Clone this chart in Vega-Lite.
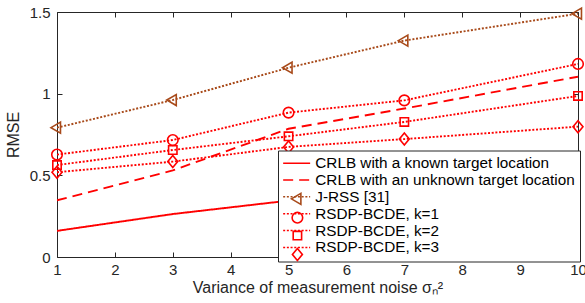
{
  "$schema": "https://vega.github.io/schema/vega-lite/v6.json",
  "width": 521,
  "height": 245,
  "autosize": {"type": "none"},
  "padding": {"left": 57, "top": 12, "right": 7, "bottom": 46},
  "background": "white",
  "config": {
    "font": "Liberation Sans",
    "view": {"stroke": "#262626", "strokeWidth": 1},
    "axis": {
      "domain": false,
      "grid": false,
      "tickColor": "#262626",
      "tickSize": -5,
      "labelFont": "Liberation Sans",
      "labelFontSize": 15,
      "labelColor": "#262626",
      "labelFlush": false,
      "labelOverlap": false,
      "titleFont": "Liberation Sans",
      "titleFontSize": 16,
      "titleFontWeight": "normal",
      "titleColor": "#262626"
    }
  },
  "data": {
    "values": [
      {"x": 1, "series": "CRLB with a known target location", "marker": "m1", "y": 0.16},
      {"x": 3, "series": "CRLB with a known target location", "marker": "m1", "y": 0.263},
      {"x": 5, "series": "CRLB with a known target location", "marker": "m1", "y": 0.345},
      {"x": 7, "series": "CRLB with a known target location", "marker": "m1", "y": 0.41},
      {"x": 10, "series": "CRLB with a known target location", "marker": "m1", "y": 0.49},
      {"x": 1, "series": "CRLB with an unknown target location", "marker": "m2", "y": 0.347},
      {"x": 3, "series": "CRLB with an unknown target location", "marker": "m2", "y": 0.53},
      {"x": 5, "series": "CRLB with an unknown target location", "marker": "m2", "y": 0.785},
      {"x": 7, "series": "CRLB with an unknown target location", "marker": "m2", "y": 0.909},
      {"x": 10, "series": "CRLB with an unknown target location", "marker": "m2", "y": 1.104},
      {"x": 1, "series": "J-RSS [31]", "marker": "m3", "y": 0.792},
      {"x": 3, "series": "J-RSS [31]", "marker": "m3", "y": 0.961},
      {"x": 5, "series": "J-RSS [31]", "marker": "m3", "y": 1.159},
      {"x": 7, "series": "J-RSS [31]", "marker": "m3", "y": 1.325},
      {"x": 10, "series": "J-RSS [31]", "marker": "m3", "y": 1.49},
      {"x": 1, "series": "RSDP-BCDE, k=1", "marker": "m4", "y": 0.627},
      {"x": 3, "series": "RSDP-BCDE, k=1", "marker": "m4", "y": 0.716},
      {"x": 5, "series": "RSDP-BCDE, k=1", "marker": "m4", "y": 0.884},
      {"x": 7, "series": "RSDP-BCDE, k=1", "marker": "m4", "y": 0.959},
      {"x": 10, "series": "RSDP-BCDE, k=1", "marker": "m4", "y": 1.182},
      {"x": 1, "series": "RSDP-BCDE, k=2", "marker": "m5", "y": 0.563},
      {"x": 3, "series": "RSDP-BCDE, k=2", "marker": "m5", "y": 0.655},
      {"x": 5, "series": "RSDP-BCDE, k=2", "marker": "m5", "y": 0.739},
      {"x": 7, "series": "RSDP-BCDE, k=2", "marker": "m5", "y": 0.827},
      {"x": 10, "series": "RSDP-BCDE, k=2", "marker": "m5", "y": 0.986},
      {"x": 1, "series": "RSDP-BCDE, k=3", "marker": "m6", "y": 0.519},
      {"x": 3, "series": "RSDP-BCDE, k=3", "marker": "m6", "y": 0.584},
      {"x": 5, "series": "RSDP-BCDE, k=3", "marker": "m6", "y": 0.674},
      {"x": 7, "series": "RSDP-BCDE, k=3", "marker": "m6", "y": 0.722},
      {"x": 10, "series": "RSDP-BCDE, k=3", "marker": "m6", "y": 0.798}
    ]
  },
  "layer": [
    {
      "mark": {"type": "line", "strokeWidth": 1.9, "clip": true},
      "encoding": {
        "x": {
          "field": "x", "type": "quantitative",
          "scale": {"domain": [1, 10], "nice": false},
          "axis": {"orient": "bottom", "values": [1, 2, 3, 4, 5, 6, 7, 8, 9, 10], "format": "d", "labelPadding": 10, "title": "Variance of measurement noise σₙ²", "titlePadding": 2}
        },
        "y": {
          "field": "y", "type": "quantitative",
          "scale": {"domain": [0, 1.5], "nice": false},
          "axis": {"orient": "left", "values": [0, 0.5, 1, 1.5], "format": "~g", "labelPadding": 12, "title": "RMSE", "titlePadding": 8}
        },
        "color": {
          "field": "series", "type": "nominal",
          "scale": {
            "domain": ["CRLB with a known target location", "CRLB with an unknown target location", "J-RSS [31]", "RSDP-BCDE, k=1", "RSDP-BCDE, k=2", "RSDP-BCDE, k=3"],
            "range": ["#FF0000", "#FF0000", "#A84A1A", "#FF0000", "#FF0000", "#FF0000"]
          },
          "legend": {"title": null, "orient": "none", "legendX": 221, "legendY": 138.5, "fillColor": "white", "strokeColor": "#262626", "padding": 5, "symbolType": "M-2,0H2", "symbolSize": 182, "symbolStrokeWidth": 1.5, "symbolOffset": 6, "labelOffset": 11, "labelFontSize": 15.3, "labelFont": "Liberation Sans", "labelColor": "black", "rowPadding": 0.85, "labelLimit": 400, "zindex": 1}
        },
        "strokeDash": {
          "field": "series", "type": "nominal",
          "scale": {
            "domain": ["CRLB with a known target location", "CRLB with an unknown target location", "J-RSS [31]", "RSDP-BCDE, k=1", "RSDP-BCDE, k=2", "RSDP-BCDE, k=3"],
            "range": [[1, 0], [10, 6], [2, 1.7], [2, 1.7], [2, 1.7], [2, 1.7]]
          },
          "legend": {"title": null, "orient": "none", "legendX": 221, "legendY": 138.5, "fillColor": "white", "strokeColor": "#262626", "padding": 5, "symbolType": "M-2,0H2", "symbolSize": 182, "symbolStrokeWidth": 1.5, "symbolOffset": 6, "labelOffset": 11, "labelFontSize": 15.3, "labelFont": "Liberation Sans", "labelColor": "black", "rowPadding": 0.85, "labelLimit": 400, "zindex": 1}
        }
      }
    },
    {
      "mark": {"type": "point", "filled": false, "strokeWidth": 1.6, "size": 144, "opacity": 1, "clip": false},
      "encoding": {
        "x": {
          "field": "x", "type": "quantitative",
          "axis": {"orient": "top", "values": [1, 2, 3, 4, 5, 6, 7, 8, 9, 10], "labels": false, "title": null}
        },
        "y": {
          "field": "y", "type": "quantitative",
          "axis": {"orient": "right", "values": [0, 0.5, 1, 1.5], "labels": false, "title": null}
        },
        "shape": {
          "field": "marker", "type": "nominal",
          "scale": {
            "domain": ["m1", "m2", "m3", "m4", "m5", "m6"],
            "range": ["M0,0", "M0,0", "M-1,0L0.58,-0.92L0.58,0.92Z", "M-0.88,0A0.88,0.88 0 1,0 0.88,0A0.88,0.88 0 1,0 -0.88,0Z", "M-0.7,-0.7H0.7V0.7H-0.7Z", "M0,-1L0.83,0L0,1L-0.83,0Z"]
          },
          "legend": {"title": null, "orient": "none", "legendX": 221, "legendY": 138.5, "fillColor": null, "strokeColor": null, "padding": 5, "symbolSize": 144, "symbolStrokeWidth": 1.6, "symbolOffset": 6.75, "labelOffset": 11, "labelFontSize": 15.3, "labelFont": "Liberation Sans", "labelExpr": "''", "rowPadding": 0.85, "labelLimit": 400, "zindex": 2}
        },
        "stroke": {
          "field": "marker", "type": "nominal",
          "scale": {
            "domain": ["m1", "m2", "m3", "m4", "m5", "m6"],
            "range": ["#FF0000", "#FF0000", "#A84A1A", "#FF0000", "#FF0000", "#FF0000"]
          },
          "legend": {"title": null, "orient": "none", "legendX": 221, "legendY": 138.5, "fillColor": null, "strokeColor": null, "padding": 5, "symbolSize": 144, "symbolStrokeWidth": 1.6, "symbolOffset": 6.75, "labelOffset": 11, "labelFontSize": 15.3, "labelFont": "Liberation Sans", "labelExpr": "''", "rowPadding": 0.85, "labelLimit": 400, "zindex": 2}
        }
      }
    }
  ],
  "resolve": {"axis": {"x": "independent", "y": "independent"}}
}
